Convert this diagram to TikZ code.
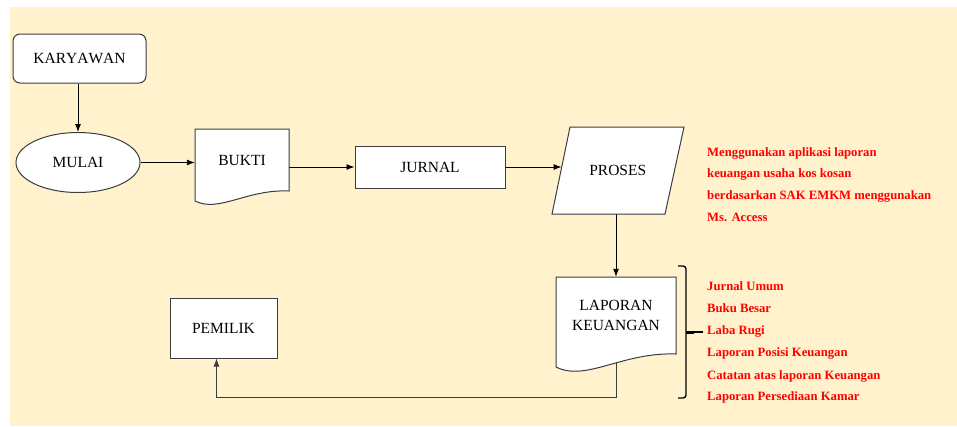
\documentclass[tikz,border=0pt]{standalone}
\usepackage{fontspec}
\setmainfont{Liberation Serif}[Kerning=Off]
\usetikzlibrary{arrows.meta,shapes.geometric}
\definecolor{cream}{HTML}{FFF2CC}
\definecolor{edge}{HTML}{3C3C3C}
\pgfdeclarelayer{bg}
\pgfdeclarelayer{lines}
\pgfsetlayers{bg,lines,main}
\begin{document}
\begin{tikzpicture}[x=1pt,y=-1pt,
 box/.style={draw=edge,fill=white,line width=1pt,inner sep=0pt,font=\fontsize{15.5}{20}\selectfont},
 body/.style={inner sep=0pt,font=\fontsize{15.5}{20}\selectfont,align=center},
 conn/.style={draw=black,line width=0.9pt,-{Latex[length=8pt,width=6pt]}},
 plain/.style={draw=edge,line width=1pt,fill=white},
 note/.style={text=red,font=\fontsize{12.7}{15}\selectfont\bfseries,anchor=base west,inner sep=0pt},
 bracket/.style={draw=black,line width=1.4pt}]
\useasboundingbox (0,0) rectangle (957,426);
\begin{pgfonlayer}{bg}
\fill[cream] (10,7) rectangle (957,426);
\end{pgfonlayer}

% nodes
\node[box,rounded corners=7pt,minimum width=133pt,minimum height=49pt] (KARYAWAN) at (79.5,58.5) {KARYAWAN};
\node[box,ellipse,minimum width=124pt,minimum height=60pt] (MULAI) at (78,162.5) {MULAI};

\draw[plain] (195,129) -- (289,129) -- (289,191) .. controls (247,189) and (219,213) .. (195,201) -- cycle;
\node[body,minimum width=94pt,minimum height=62pt] (BUKTI) at (242,160) {BUKTI};

\node[box,minimum width=150pt,minimum height=42pt] (JURNAL) at (430,167) {JURNAL};

\draw[plain] (570,127) -- (684,127) -- (665,214) -- (552,214) -- cycle;
\node[body] (PROSES) at (617.75,170.5) {PROSES};
\coordinate (prosesIn) at (561.6,167);
\coordinate (prosesOut) at (616,214);

\draw[plain] (556,277) -- (676,277) -- (676,354) .. controls (622,352) and (586,382) .. (556,367) -- cycle;
\node[body,minimum width=120pt,minimum height=77pt] (LAPORAN) at (616,315.5) {LAPORAN\\KEUANGAN};

\node[box,minimum width=107pt,minimum height=60pt] (PEMILIK) at (223.5,328) {PEMILIK};

% connectors
\begin{pgfonlayer}{lines}
\draw[conn] (KARYAWAN.south -| MULAI.north) -- (MULAI.north);
\draw[conn] (MULAI.east) -- (MULAI.east -| BUKTI.west);
\draw[conn] (JURNAL.west -| BUKTI.east) -- (JURNAL.west);
\draw[conn] (JURNAL.east) -- (prosesIn);
\draw[conn] (prosesOut) -- (LAPORAN.north);
\draw[conn,draw=edge] (LAPORAN.south) -- ++(0,43) -| ([xshift=-7pt]PEMILIK.south);
\end{pgfonlayer}

% bracket
\draw[bracket,rounded corners=3pt] (678,266) -- (686,266) -- (686,398) -- (678,398);
\draw[draw=black,line width=3pt] (686,332) -- (694,332);
\draw[draw=black,line width=1.2pt] (694,332) -- (703,332);

% notes
\node[note] (n1) at (707,156) {Menggunakan aplikasi laporan};
\node[note] (n2) at (707,177.8) {keuangan usaha kos kosan};
\node[note] (n3) at (707,199.7) {berdasarkan SAK EMKM menggunakan};
\node[note] (n4) at (707,221.6) {Ms. Access};

\node[note] (l1) at (707,290) {Jurnal Umum};
\node[note] (l2) at (707,312) {Buku Besar};
\node[note] (l3) at (707,334.2) {Laba Rugi};
\node[note] (l4) at (707,356.5) {Laporan Posisi Keuangan};
\node[note] (l5) at (707,379) {Catatan atas laporan Keuangan};
\node[note] (l6) at (707,400.7) {Laporan Persediaan Kamar};
\end{tikzpicture}
\end{document}
